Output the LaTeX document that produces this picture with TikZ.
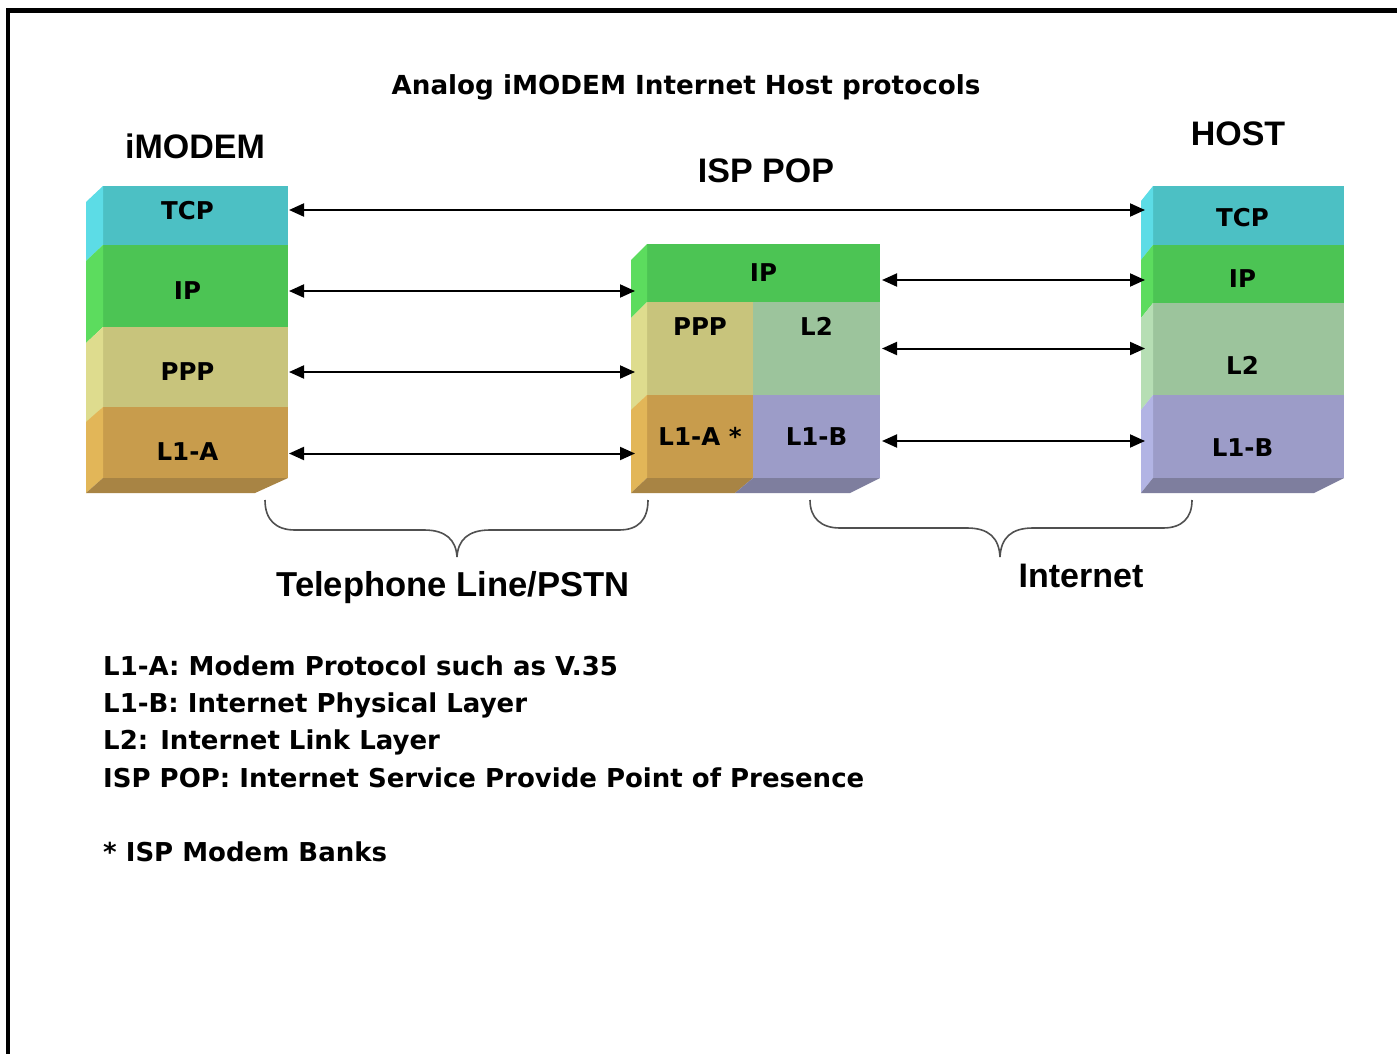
\documentclass[tikz,border=0pt]{standalone}
\usepackage{fontspec}
\setmainfont{Liberation Sans}
\newfontfamily\vfont{DejaVu Sans}
\usetikzlibrary{arrows.meta,calc}

% layer colours: front face, side face, bottom face
\definecolor{tcpF}{HTML}{4CC0C4}\definecolor{tcpS}{HTML}{5CDCE6}
\definecolor{ipF}{HTML}{4CC454}\definecolor{ipS}{HTML}{5CDC5E}
\definecolor{pppF}{HTML}{C8C47C}\definecolor{pppS}{HTML}{DEDC8E}
\definecolor{laF}{HTML}{C89C4C}\definecolor{laS}{HTML}{E2B658}\definecolor{laB}{HTML}{A88444}
\definecolor{ltwoF}{HTML}{9CC49C}\definecolor{ltwoS}{HTML}{B6DEB4}
\definecolor{lbF}{HTML}{9C9CC8}\definecolor{lbS}{HTML}{B2B4E4}\definecolor{lbB}{HTML}{7E7E9E}
\definecolor{braceC}{HTML}{505050}

% \band{name}{x}{y}{width}{height}{colour}{text}{text x offset}{text y offset}
\newcommand\band[9]{%
  \node[bandbox, fill=#6, minimum width=#4pt, minimum height=#5pt] (#1) at (#2,#3) {};
  \node[layertext] (#1-t) at ($(#1.center)+(#8,#9)$) {#7};}
% \sideface{name}{colour}{dx}{dy}
\newcommand\sideface[4]{%
  \fill[#2] (#1.north west) -- ++(-#3,#4) -- ($(#1.south west)+(-#3,#4)$) -- (#1.south west) -- cycle;}
% \bottomface{name}{colour}{dx left}{dx right}{dy}
\newcommand\bottomface[5]{%
  \fill[#2] (#1.south west) -- (#1.south east) -- ++(-#4,#5) -- ($(#1.south west)+(-#3,#5)$) -- cycle;}

\begin{document}
\begin{tikzpicture}[x=1pt,y=-1pt,
  bandbox/.style={rectangle, inner sep=0pt, outer sep=0pt, anchor=north west, draw=none},
  layertext/.style={font=\vfont\bfseries\fontsize{24.5}{28}\selectfont, inner sep=0pt},
  heading/.style={font=\bfseries\fontsize{34}{40}\selectfont, inner sep=0pt},
  titletext/.style={font=\vfont\bfseries\fontsize{26.2}{30}\selectfont, inner sep=0pt},
  legend/.style={font=\vfont\bfseries\fontsize{26}{30}\selectfont, inner sep=0pt, anchor=base west},
  arr/.style={{Triangle[length=15pt,width=13pt]}-{Triangle[length=15pt,width=13pt]}, line width=2pt, black},
  bracepath/.style={draw=braceC, line width=1.6pt}]

\useasboundingbox (0,0) rectangle (1397,1054);
\fill[white] (0,0) rectangle (1397,1054);
\draw[line width=4.5pt] (8,1056) -- (8,10.5) -- (1399,10.5);

% title and stack headings
\node[titletext] (title) at (686,87) {Analog iMODEM Internet Host protocols};
\node[heading] (hdModem) at (195,146) {iMODEM};
\node[heading] (hdHost) at (1238,134) {HOST};
\node[heading] (hdPop) at (766,171) {ISP POP};

% iMODEM stack
\band{lTCP}{103}{186}{185}{59}{tcpF}{TCP}{-8}{-5}
\band{lIP}{103}{245}{185}{82}{ipF}{IP}{-8}{5}
\band{lPPP}{103}{327}{185}{80}{pppF}{PPP}{-8}{5}
\band{lLA}{103}{407}{185}{71}{laF}{L1-A}{-8}{9}
\sideface{lTCP}{tcpS}{17}{16}
\sideface{lIP}{ipS}{17}{16}
\sideface{lPPP}{pppS}{17}{16}
\sideface{lLA}{laS}{17}{15}
\bottomface{lLA}{laB}{17}{33}{15}

% ISP POP stack
\band{mIP}{647}{244}{233}{58}{ipF}{IP}{0}{0}
\band{mPPP}{647}{302}{106}{93}{pppF}{PPP}{0}{-22}
\band{mLtwo}{753}{302}{127}{93}{ltwoF}{L2}{0}{-22}
\band{mLA}{647}{395}{106}{83}{laF}{L1-A *}{0}{0}
\band{mLB}{753}{395}{127}{83}{lbF}{L1-B}{0}{0}
\sideface{mIP}{ipS}{16}{16}
\sideface{mPPP}{pppS}{16}{16}
\sideface{mLA}{laS}{16}{15}
\bottomface{mLA}{laB}{16}{18}{15}
\fill[lbB] (mLB.south west) -- (mLB.south east) -- ++(-30,15) -- ($(mLB.south west)+(-18,15)$) -- cycle;

% HOST stack
\band{hTCP}{1153}{186}{191}{59}{tcpF}{TCP}{-6}{2}
\band{hIP}{1153}{245}{191}{58}{ipF}{IP}{-6}{5}
\band{hLtwo}{1153}{303}{191}{92}{ltwoF}{L2}{-6}{16}
\band{hLB}{1153}{395}{191}{83}{lbF}{L1-B}{-6}{11}
\sideface{hTCP}{tcpS}{12}{15}
\sideface{hIP}{ipS}{12}{15}
\sideface{hLtwo}{ltwoS}{12}{15}
\sideface{hLB}{lbS}{12}{15}
\bottomface{hLB}{lbB}{12}{30}{15}

% peer-to-peer protocol arrows
\draw[arr] ($(lTCP.east)+(1,-5.5)$) -- ($(hTCP.west |- lTCP.east)+(-8,-5.5)$);
\draw[arr] ($(lIP.east)+(1,5)$) -- ($(mIP.west |- lIP.east)+(-12,5)$);
\draw[arr] ($(lPPP.east)+(1,5)$) -- ($(mPPP.west |- lPPP.east)+(-12,5)$);
\draw[arr] ($(lLA.east)+(1,11)$) -- ($(mLA.west |- lLA.east)+(-12,11)$);
\draw[arr] ($(mIP.east)+(2,7)$) -- ($(hIP.west |- mIP.east)+(-8,7)$);
\draw[arr] ($(mLtwo.east)+(2,0)$) -- ($(hLtwo.west |- mLtwo.east)+(-8,0)$);
\draw[arr] ($(mLB.east)+(2,4.5)$) -- ($(hLB.west |- mLB.east)+(-8,4.5)$);

% braces under the links
\draw[bracepath] (265,500) .. controls (265,520) and (276,530) .. (295,530)
  -- (424,530) .. controls (446,530) and (456,540) .. (457,557)
  .. controls (458,540) and (468,530) .. (490,530)
  -- (619,530) .. controls (638,530) and (648,520) .. (648,500);
\draw[bracepath] (810,500) .. controls (810,518) and (821,528) .. (840,528)
  -- (967,528) .. controls (989,528) and (999,538) .. (1000,557)
  .. controls (1001,538) and (1011,528) .. (1033,528)
  -- (1163,528) .. controls (1182,528) and (1192,518) .. (1192,500);

\node[heading, font=\bfseries\fontsize{34.6}{40}\selectfont] (pstn) at (453,588) {Telephone Line/PSTN};
\node[heading] (inet) at (1081,576) {Internet};

% legend
\node[legend] (leg1) at (103,675) {L1-A: Modem Protocol such as V.35};
\node[legend] (leg2) at (103,712) {L1-B: Internet Physical Layer};
\node[legend] (leg3) at (103,749) {L2: Internet Link Layer};
\node[legend] (leg4) at (103,787) {ISP POP: Internet Service Provide Point of Presence};
\node[legend] (leg5) at (103,861) {* ISP Modem Banks};
\end{tikzpicture}
\end{document}
